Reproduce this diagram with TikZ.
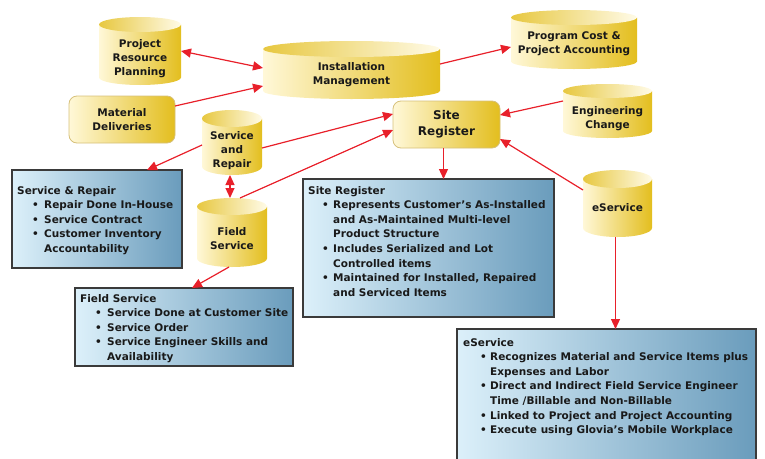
\documentclass[tikz,border=0pt]{standalone}
\usepackage{fontspec}
\setmainfont{DejaVu Sans}
\usetikzlibrary{arrows.meta,calc}
\definecolor{cylL}{HTML}{FFF8D8}
\definecolor{cylR}{HTML}{E3BE1E}
\definecolor{boxL}{HTML}{DCF0FA}
\definecolor{boxR}{HTML}{6A9CBC}
\definecolor{arr}{HTML}{E8202A}
\definecolor{rrB}{HTML}{D6C07A}
\definecolor{bxB}{HTML}{3A3A3A}
\tikzset{
 arrow/.style={draw=arr, line width=1.2pt, -{Triangle[length=10pt,width=9pt]}},
 darrow/.style={draw=arr, line width=1.2pt, {Triangle[length=10pt,width=9pt]}-{Triangle[length=10pt,width=9pt]}},
 cylnode/.style={inner sep=0pt, outer sep=0pt},
 cyltext/.style={align=center, inner sep=0pt, font=\bfseries\fontsize{10.5}{14}\selectfont, text=black!90},
 rrbox/.style={rounded corners=8pt, draw=rrB, line width=0.8pt, left color=cylL, right color=cylR, inner sep=0pt, outer sep=0pt, align=center, font=\bfseries\fontsize{10.5}{14}\selectfont, text=black!90},
 bluebox/.style={draw=bxB, line width=1.3pt, left color=boxL, right color=boxR, inner sep=0pt, outer sep=0pt, anchor=north west},
 boxtext/.style={anchor=base west, inner sep=0pt, font=\bfseries\fontsize{10.5}{14.6}\selectfont, text=black!90},
}
\newcommand\mkcyl[8]{%
 \pgfmathsetmacro\rx{(#4-#2)/2}%
 \pgfmathsetmacro\yt{#3+#6}%
 \pgfmathsetmacro\yb{#5-#6}%
 \pgfmathsetmacro\cx{(#2+#4)/2}%
 \pgfmathsetmacro\cy{(#3+#5)/2}%
 \pgfmathsetmacro\ww{#4-#2}%
 \pgfmathsetmacro\hh{#5-#3}%
 \shade[left color=cylL,right color=cylR] (#2,\yt) -- (#2,\yb) arc[start angle=180,end angle=360,x radius=\rx pt,y radius=#6pt] -- (#4,\yt) -- cycle;
 \shade[left color=cylR!85!white,right color=cylL!60!white] (\cx,\yt) ellipse[x radius=\rx pt,y radius=#6pt];
 \node[cylnode, minimum width=\ww pt, minimum height=\hh pt] (#1) at (\cx,\cy) {};
 \node[cyltext] (#1-t) at (\cx,#7) {#8};
}
\newcommand\bul{\hspace*{15pt}\textbullet}
\begin{document}
\begin{tikzpicture}[x=1pt,y=-1pt]
\useasboundingbox (0,0) rectangle (765,458);
% cylinders
\mkcyl{prp}{99}{17}{181}{85}{7.5}{59}{Project\\Resource\\Planning}
\mkcyl{im}{263}{41}{440}{99}{8}{75}{Installation\\Management}
\mkcyl{pc}{511}{10}{637}{69}{7.5}{43.5}{Program Cost \&\\Project Accounting}
\mkcyl{ec}{563}{84}{652}{138}{7}{119}{Engineering\\Change}
\mkcyl{src}{202}{110}{262}{175}{8.5}{151}{Service\\and\\Repair}
\mkcyl{fs}{197}{198}{267}{267}{8.5}{239}{Field\\Service}
\mkcyl{es}{583}{170}{652}{237}{9}{208}{eService}
% rounded boxes
\node[rrbox, minimum width=106pt, minimum height=47pt] (md) at (122,119.5) {Material\\Deliveries};
\node[rrbox, minimum width=107pt, minimum height=47pt, font=\bfseries\fontsize{12}{16}\selectfont] (site) at (446.5,124.5) {Site\\Register};
% blue boxes
\node[bluebox, minimum width=170pt, minimum height=98pt] (srbox) at (12,170) {};
\node[bluebox, minimum width=218pt, minimum height=78pt] (fieldbox) at (75,288) {};
\node[bluebox, minimum width=251pt, minimum height=138pt] (sitebox) at (303,179) {};
\node[bluebox, minimum width=299pt, minimum height=135pt] (esbox) at (457,329) {};
% box texts
\node[boxtext] (srbox-t) at (17,194) {\begin{tabular}[t]{@{}p{27pt}@{}l@{}}
\multicolumn{2}{@{}l@{}}{Service \& Repair}\\
\bul & Repair Done In-House\\
\bul & Service Contract\\
\bul & Customer Inventory\\
 & Accountability
\end{tabular}};
\node[boxtext] (fieldbox-t) at (80,302) {\begin{tabular}[t]{@{}p{27pt}@{}l@{}}
\multicolumn{2}{@{}l@{}}{Field Service}\\
\bul & Service Done at Customer Site\\
\bul & Service Order\\
\bul & Service Engineer Skills and\\
 & Availability
\end{tabular}};
\node[boxtext] (sitebox-t) at (308,194) {\begin{tabular}[t]{@{}p{25pt}@{}l@{}}
\multicolumn{2}{@{}l@{}}{Site Register}\\
\hspace*{14pt}\textbullet & Represents Customer’s As-Installed\\
 & and As-Maintained Multi-level\\
 & Product Structure\\
\hspace*{14pt}\textbullet & Includes Serialized and Lot\\
 & Controlled items\\
\hspace*{14pt}\textbullet & Maintained for Installed, Repaired\\
 & and Serviced Items
\end{tabular}};
\node[boxtext] (esbox-t) at (463,346) {\begin{tabular}[t]{@{}p{27pt}@{}l@{}}
\multicolumn{2}{@{}l@{}}{eService}\\
\hspace*{17pt}\textbullet & Recognizes Material and Service Items plus\\
 & Expenses and Labor\\
\hspace*{17pt}\textbullet & Direct and Indirect Field Service Engineer\\
 & Time /Billable and Non-Billable\\
\hspace*{17pt}\textbullet & Linked to Project and Project Accounting\\
\hspace*{17pt}\textbullet & Execute using Glovia’s Mobile Workplace
\end{tabular}};
% connectors
\draw[darrow] (prp.east) -- ([yshift=2pt]im.west);
\draw[arrow] ([yshift=13.5pt]md.east) -- ([yshift=-16pt]im.west);
\draw[arrow] ([yshift=6pt]im.east) -- ([yshift=-7.5pt]pc.west);
\draw[arrow] ([yshift=-5.5pt]src.east) -- ([yshift=10.5pt]site.west);
\draw[arrow] ([xshift=8pt]fs.north) -- ([yshift=-5.5pt]site.west);
\draw[arrow] ([yshift=10pt]ec.west) -- ([yshift=9.5pt]site.east);
\draw[arrow] ([yshift=13.5pt]es.west) -- ([yshift=-14.5pt]site.east);
\draw[arrow] ([xshift=-3pt]site.south) -- ([xshift=-3pt]site.south |- sitebox.north);
\draw[arrow] ([yshift=-2.5pt]src.west) -- ([xshift=50pt]srbox.north);
\draw[darrow] ([xshift=-2pt]src.south) -- ([xshift=-2pt]fs.north);
\draw[arrow] ([xshift=-3pt]fs.south) -- ([xshift=8pt]fieldbox.north);
\draw[arrow] ([xshift=-2pt]es.south) -- ([xshift=-2pt]es.south |- esbox.north);
\end{tikzpicture}
\end{document}
